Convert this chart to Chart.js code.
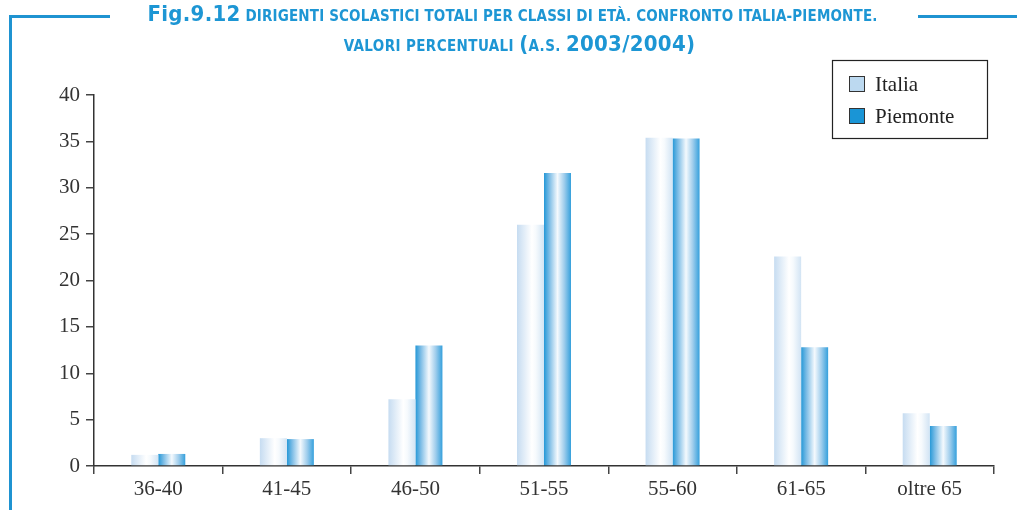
<!DOCTYPE html>
<html>
<head>
<meta charset="utf-8">
<script src="https://cdn.jsdelivr.net/npm/chart.js@4/dist/chart.umd.min.js"></script>
<style>
  html, body { margin:0; padding:0; background:#fff; width:1017px; height:510px; overflow:hidden; }
  #wrap { position:relative; width:1017px; height:510px; }
  canvas { position:absolute; left:0; top:0; }
  .frame-v { position:absolute; left:9px; top:15px; width:3px; height:495px; background:#1f93d1; }
  .frame-hl { position:absolute; left:9px; top:15px; width:101px; height:3px; background:#1f93d1; }
  .frame-hr { position:absolute; left:918px; top:15px; width:99px; height:3px; background:#1f93d1; }
  .title { position:absolute; left:0; width:1017px; text-align:center; color:#1d96d4; font-weight:bold;
           font-family:"Liberation Sans Narrow","DejaVu Sans Condensed",sans-serif; font-stretch:condensed; white-space:nowrap; }
  .t1 { top:1px; left:4px; font-size:15px; letter-spacing:0.15px; }
  .t2 { top:31px; left:11px; font-size:15px; letter-spacing:0.4px; }
  .big { font-size:22px; letter-spacing:0.3px; }
</style>
</head>
<body>
<div id="wrap">
  <canvas id="c" width="1017" height="510"></canvas>
  <div class="frame-v"></div>
  <div class="frame-hl"></div>
  <div class="frame-hr"></div>
  <div class="title t1"><span class="big">Fig.9.12</span> DIRIGENTI SCOLASTICI TOTALI PER CLASSI DI ETÀ. CONFRONTO ITALIA-PIEMONTE.</div>
  <div class="title t2">VALORI PERCENTUALI <span class="big">(</span>A.S. <span class="big">2003/2004)</span></div>
</div>
<script>
const categories = ["36-40", "41-45", "46-50", "51-55", "55-60", "61-65", "oltre 65"];
const seriesNames = ["Italia", "Piemonte"];
const italia = [1.2, 3.0, 7.2, 26.0, 35.4, 22.6, 5.7];
const piemonte = [1.3, 2.9, 13.0, 31.6, 35.3, 12.8, 4.3];
const yTicks = [0, 5, 10, 15, 20, 25, 30, 35, 40];

const CAT_PCT = 0.42;
const legendColors = ["#bcd9f0", "#1a95d6"];

function barGradient(ctx, which) {
  const chart = ctx.chart;
  if (ctx.type !== 'data' || !chart.chartArea) return legendColors[which];
  const xs = chart.scales.x;
  const cx = xs.getPixelForValue(ctx.dataIndex);
  const catW = xs.width / categories.length;
  const bw = catW * CAT_PCT / 2;
  const left = which === 0 ? cx - bw : cx;
  const g = chart.ctx.createLinearGradient(left, 0, left + bw, 0);
  if (which === 0) {
    g.addColorStop(0, "#c6dcf1");
    g.addColorStop(0.55, "#ffffff");
    g.addColorStop(0.7, "#f6fafd");
    g.addColorStop(1, "#d2e4f4");
  } else {
    g.addColorStop(0, "#2598d7");
    g.addColorStop(0.2, "#7dbde6");
    g.addColorStop(0.5, "#f4f9fd");
    g.addColorStop(0.75, "#9fcdec");
    g.addColorStop(1, "#35a0dc");
  }
  return g;
}

const boxLegend = {
  id: 'boxLegend',
  afterDraw(chart) {
    const c = chart.ctx;
    c.save();
    c.fillStyle = "#fff";
    c.fillRect(832, 60, 156, 78);
    c.strokeStyle = "#222";
    c.lineWidth = 1.2;
    c.strokeRect(832.5, 60.5, 155, 78);
    const rows = [84, 116];
    c.font = "21px 'Liberation Serif', serif";
    c.textBaseline = "middle";
    seriesNames.forEach((n, i) => {
      c.fillStyle = legendColors[i];
      c.fillRect(849, rows[i] - 8, 15, 15);
      c.strokeStyle = "#333";
      c.lineWidth = 1;
      c.strokeRect(849.5, rows[i] - 7.5, 15, 15);
      c.fillStyle = "#222";
      c.fillText(n, 875, rows[i] + 1);
    });
    c.restore();
  }
};

new Chart(document.getElementById('c'), {
  type: 'bar',
  data: {
    labels: categories,
    datasets: [
      { label: seriesNames[0], data: italia, backgroundColor: (ctx) => barGradient(ctx, 0) },
      { label: seriesNames[1], data: piemonte, backgroundColor: (ctx) => barGradient(ctx, 1) }
    ]
  },
  options: {
    responsive: false,
    animation: false,
    events: [],
    layout: { padding: { left: 0, right: 23, top: 95, bottom: 0 } },
    datasets: { bar: { categoryPercentage: CAT_PCT, barPercentage: 1.0, borderWidth: 0 } },
    plugins: { legend: { display: false }, title: { display: false }, tooltip: { enabled: false } },
    scales: {
      x: {
        offset: true,
        afterFit: (s) => { s.height = 44; },
        grid: { display: true, drawOnChartArea: false, offset: true, tickLength: 8, color: "#444", lineWidth: 1.5 },
        border: { display: true, color: "#333", width: 1.5 },
        ticks: { color: "#333", font: { family: "'Liberation Serif', serif", size: 21 }, padding: 3 }
      },
      y: {
        min: 0, max: 40,
        afterFit: (s) => { s.width = 94; },
        afterBuildTicks: (s) => { s.ticks = yTicks.map(v => ({ value: v })); },
        grid: { display: true, drawOnChartArea: false, tickLength: 8, color: "#444", lineWidth: 1.5 },
        border: { display: true, color: "#333", width: 1.5 },
        ticks: { color: "#333", font: { family: "'Liberation Serif', serif", size: 21 }, padding: 6 }
      }
    }
  },
  plugins: [boxLegend]
});
</script>
</body>
</html>
